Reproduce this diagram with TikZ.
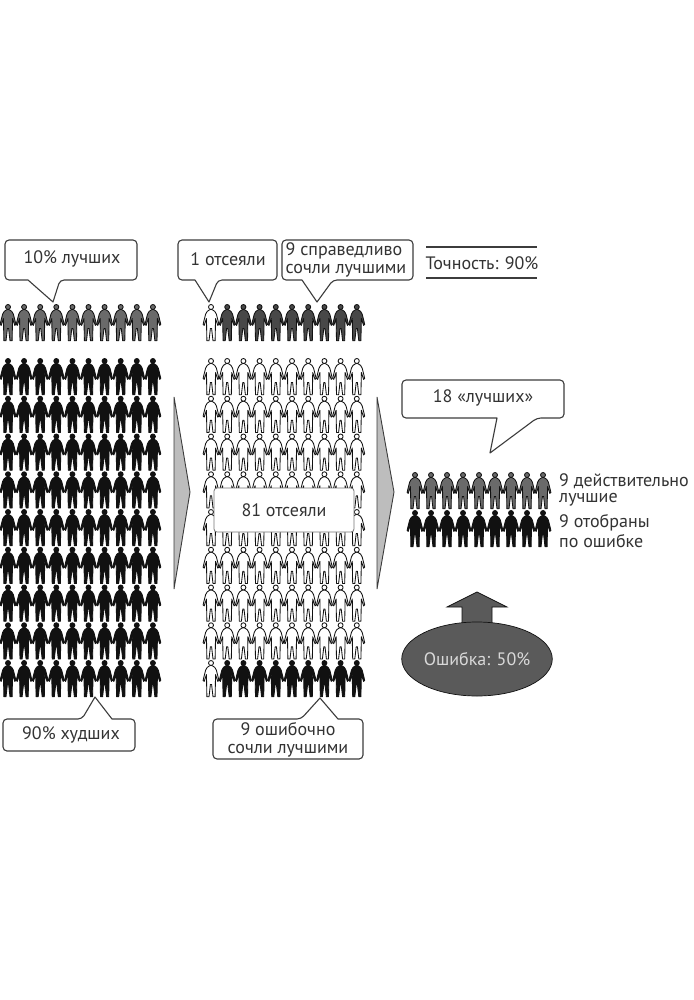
\documentclass[tikz,border=0pt]{standalone}
\usepackage{fontspec}
\setmainfont{PT Sans}
\usetikzlibrary{shapes.geometric}
\definecolor{ink}{HTML}{111111}
\definecolor{slate}{HTML}{6A6A6A}
\definecolor{deepslate}{HTML}{484848}
\definecolor{wedge}{HTML}{BDBDBD}
\definecolor{textgrey}{HTML}{333333}
\definecolor{rimgrey}{HTML}{3C3C3C}
\tikzset{
  x=1pt,y=-1pt,
  figure outline/.style={line width=0.85pt,line join=round},
  pics/person/.style n args={3}{code={
    \path[figure outline,draw=#2,fill=#1]
      (0,5.4) -- (1.4,5.8) -- (3.8,7.4) -- (5.4,10.2) -- (6.6,15) -- (7.9,20.4) -- (6.8,21.4)
      -- (5.2,16.5) -- (4.5,14.5) -- (4.4,23) -- (4.1,36.8) -- (2,36.8) -- (0.6,24.5)
      -- (-0.6,24.5) -- (-2,36.8) -- (-4.1,36.8) -- (-4.4,23) -- (-4.5,14.5) -- (-5.2,16.5)
      -- (-6.8,21.4) -- (-7.9,20.4) -- (-6.6,15) -- (-5.4,10.2) -- (-3.8,7.4) -- (-1.4,5.8) -- cycle;
    \path[figure outline,draw=#2,fill=#3] (0,3) circle[radius=2.5];
  }},
  callout/.style={draw=rimgrey,fill=white,line width=1.1pt,line join=round},
  label text/.style={text=textgrey,font=\fontsize{18}{18}\selectfont,inner sep=0pt,align=center},
  side text/.style={text=textgrey,font=\fontsize{18}{18}\selectfont,inner sep=0pt,anchor=west},
  wedge arrow/.style={fill=wedge,draw=rimgrey,line width=0.9pt,line join=miter},
  rule line/.style={draw=rimgrey,line width=2.2pt},
  error shape/.style={fill=deepslate!90!white,draw=ink,line width=0.7pt},
}
% Rounded box with a pointer on its lower edge: x1,y1,x2,y2,base1,tipx,tipy,base2
\newcommand{\boxpointdown}[8]{%
  \draw[callout,rounded corners=4pt] (#1,#2) -- (#3,#2) -- (#3,#4)
    -- (#8,#4) [sharp corners] -- (#6,#7) -- (#5,#4) [rounded corners=4pt]
    -- (#1,#4) -- cycle;}
% Rounded box with a pointer on its upper edge: x1,y1,x2,y2,base1,tipx,tipy,base2
\newcommand{\boxpointup}[8]{%
  \draw[callout,rounded corners=4pt] (#1,#4) -- (#1,#2)
    -- (#5,#2) [sharp corners] -- (#6,#7) -- (#8,#2) [rounded corners=4pt]
    -- (#3,#2) -- (#3,#4) -- cycle;}
\begin{document}
\begin{tikzpicture}
\useasboundingbox (0,0) rectangle (693,1000);
\fill[white] (0,0) rectangle (693,1000);

% left column: the top group and the nine rows below it
\foreach \c in {0,...,9} {
  \pic (lefttop\c) at ({8+16.1*\c},304) {person={slate}{ink}{slate}};
  \foreach \r in {0,...,8} {
    \pic (left\r\c) at ({8+16.1*\c},{358+37.75*\r}) {person={ink}{ink}{ink}};
  }
}

% middle column
\pic (midtop0) at (211,304) {person={white}{ink}{white}};
\foreach \c in {1,...,9} {
  \pic (midtop\c) at ({211+16.2*\c},304) {person={deepslate}{ink}{deepslate}};
}
\foreach \c in {0,...,9} {
  \foreach \r in {0,...,7} {
    \pic (mid\r\c) at ({211+16.2*\c},{358+37.75*\r}) {person={white}{ink}{white}};
  }
}
\pic (midlast0) at (211,660) {person={white}{ink}{white}};
\foreach \c in {1,...,9} {
  \pic (midlast\c) at ({211+16.2*\c},660) {person={ink}{ink}{ink}};
}

% right column
\foreach \c in {0,...,8} {
  \pic (best\c) at ({415+16*\c},472) {person={slate}{ink}{slate}};
  \pic (wrong\c) at ({415+16*\c},510) {person={ink}{ink}{ink}};
}

% wedges between the columns
\draw[wedge arrow] (174,397) -- (190,492) -- (174,589) -- cycle;
\draw[wedge arrow] (377,397) -- (394,492) -- (377,589) -- cycle;

% callouts
\boxpointdown{5}{240}{137}{280}{28}{53}{302}{60}
\node[label text] (best10) at (72,259) {10\% лучших};
\boxpointdown{178}{240}{277}{280}{195}{209}{302}{218}
\node[label text] (drop1) at (228,259) {1 отсеяли};
\boxpointdown{282}{240}{413}{280}{302}{317}{302}{333}
\node[label text,align=left] (right9) at (346,260) {9 справедливо\\сочли лучшими};
\boxpointdown{402}{380}{564}{418}{497}{490}{453}{537}
\node[label text] (chosen18) at (483,398) {18 «лучших»};
\boxpointup{3}{719}{135}{751}{82}{95}{697}{112}
\node[label text] (worst90) at (71,735) {90\% худших};
\boxpointup{213}{719}{363}{759}{301}{320}{698}{338}
\node[label text] (wrong9) at (288,740) {9 ошибочно\\сочли лучшими};

% central label over the crowd
\node[draw=rimgrey!70!white,fill=white,line width=0.8pt,rounded corners=3pt,
      minimum width=140pt,minimum height=44pt,label text] (drop81) at (284,510) {81 отсеяли};

% accuracy figure between two rules
\node[label text] (accuracy) at (482,263) {Точность: 90\%};
\coordinate (ruleAl) at (426,247); \coordinate (ruleAr) at (537,247);
\coordinate (ruleBl) at (426,278); \coordinate (ruleBr) at (537,278);
\draw[rule line] (ruleAl) -- (ruleAr);
\draw[rule line] (ruleBl) -- (ruleBr);

% labels beside the right column
\node[side text] (t1) at (559,481) {9 действительно};
\node[side text] (t2) at (559,500) {лучшие};
\node[side text] (t3) at (559,523) {9 отобраны};
\node[side text] (t4) at (559,541) {по ошибке};

% error bubble with its arrow
\draw[error shape] (462,632) -- (462,607) -- (447,607) -- (477,592) -- (507,607)
  -- (492,607) -- (492,632) -- cycle;
\node[ellipse,error shape,minimum width=146pt,minimum height=74pt,inner sep=0pt,
      text=white!85!black,font=\fontsize{18}{18}\selectfont] (error) at (477,659) {Ошибка: 50\%};
\end{tikzpicture}
\end{document}
